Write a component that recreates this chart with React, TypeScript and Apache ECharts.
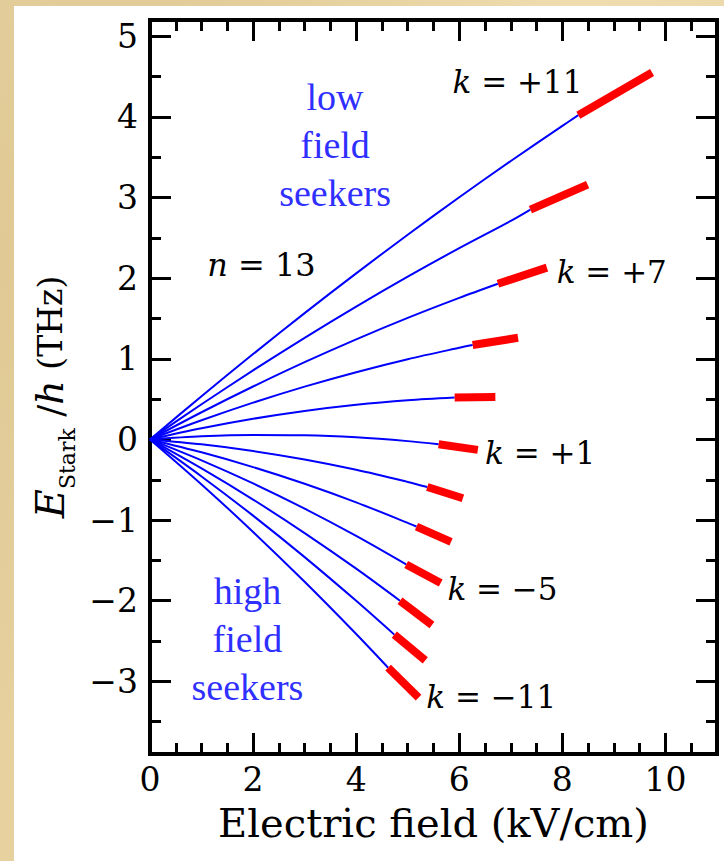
import React, { useEffect, useRef } from 'react';
import * as echarts from 'echarts';

// Parabolic Stark levels, n = 13
const kLevels = [11, 9, 7, 5, 3, 1, -1, -3, -5, -7, -9, -11];

// blue (bound) part: field samples (kV/cm) and energies (THz)
const blueField: number[][] = [
  [0, 1, 2, 3, 4, 5, 6, 7, 8],
  [0, 1, 2, 3, 4, 5, 6, 7],
  [0, 1, 2, 3, 4, 5, 6],
  [0, 1, 2, 3, 4, 5, 6],
  [0, 1, 2, 3, 4, 5],
  [0, 1, 2, 3, 4, 5],
  [0, 1, 2, 3, 4, 5],
  [0, 1, 2, 3, 4, 5],
  [0, 1, 2, 3, 4],
  [0, 1, 2, 3, 4],
  [0, 1, 2, 3, 4],
  [0, 1, 2, 3, 4],
];
const blueEnergy: number[][] = [
  [0, 0.536, 1.058, 1.566, 2.059, 2.538, 3.002, 3.452, 3.887],
  [0, 0.436, 0.856, 1.26, 1.647, 2.018, 2.372, 2.71],
  [0, 0.337, 0.656, 0.958, 1.241, 1.507, 1.755],
  [0, 0.237, 0.456, 0.655, 0.834, 0.995, 1.136],
  [0, 0.138, 0.256, 0.353, 0.43, 0.486],
  [0, 0.039, 0.056, 0.052, 0.026, -0.021],
  [0, -0.061, -0.144, -0.249, -0.377, -0.527],
  [0, -0.16, -0.343, -0.55, -0.78, -1.034],
  [0, -0.26, -0.546, -0.859, -1.197],
  [0, -0.36, -0.746, -1.161, -1.602],
  [0, -0.459, -0.945, -1.459, -2.001],
  [0, -0.558, -1.147, -1.765, -2.412],
];

// red (ionising) part: start and end of each thick segment
const redStartField = [8.31, 7.38, 6.75, 6.26, 5.91, 5.6, 5.38, 5.17, 4.97, 4.85, 4.74, 4.62];
const redStartEnergy = [4.02, 2.85, 1.93, 1.17, 0.52, -0.06, -0.59, -1.08, -1.55, -2.0, -2.42, -2.83];
const redEndField = [9.74, 8.49, 7.7, 7.14, 6.7, 6.36, 6.07, 5.84, 5.64, 5.47, 5.34, 5.21];
const redEndEnergy = [4.55, 3.16, 2.13, 1.26, 0.525, -0.13, -0.73, -1.27, -1.78, -2.3, -2.74, -3.2];

// annotations
const kLabelTexts = ['+11', '+7', '+1', '\u22125', '\u221211'];
const kLabelField = [5.86, 7.88, 6.49, 5.76, 5.35];
const kLabelEnergy = [4.43, 2.07, -0.17, -1.85, -3.19];
const seekerTexts = ['low\nfield\nseekers', 'high\nfield\nseekers'];
const seekerField = [3.59, 1.89];
const seekerEnergy = [3.65, -2.48];
const nLabelText = '13';
const nLabelField = [1.1];
const nLabelEnergy = [2.16];

const FONT = "'DejaVu Serif', serif";
const BLUE_FONT = "'Liberation Serif', 'Times New Roman', serif";

const fmtNum = (v: number) => {
  if (Math.abs(v - Math.round(v)) > 1e-6) return '';
  const r = Math.round(v);
  return r < 0 ? '\u2212' + Math.abs(r) : String(r);
};

function buildOption(): any {
  const tickStyle = { color: '#000', width: 3 };
  const majorLen = 21;
  const minorLen = 11;
  const noLine = { show: false, onZero: false };
  const xBase = { type: 'value', min: 0, max: 11, gridIndex: 0, splitLine: { show: false }, axisLine: noLine };
  const yBase = { type: 'value', min: -3.9, max: 5.2, gridIndex: 0, splitLine: { show: false }, axisLine: noLine };

  const xAxis = [
    {
      ...xBase,
      position: 'bottom',
      minInterval: 2,
      maxInterval: 2,
      axisTick: { show: true, inside: true, length: majorLen, lineStyle: tickStyle },
      axisLabel: {
        show: true, margin: 9, color: '#000', fontFamily: FONT, fontSize: 33,
        showMaxLabel: false, formatter: (v: number) => fmtNum(v),
      },
      name: 'Electric field (kV/cm)',
      nameLocation: 'middle',
      nameGap: 49,
      nameTextStyle: { fontFamily: FONT, fontSize: 40, color: '#000' },
    },
    {
      ...xBase, position: 'bottom', interval: 0.5,
      axisTick: { show: true, inside: true, length: minorLen, lineStyle: tickStyle },
      axisLabel: { show: false },
    },
    {
      ...xBase, position: 'top', minInterval: 2, maxInterval: 2,
      axisTick: { show: true, inside: true, length: majorLen, lineStyle: tickStyle },
      axisLabel: { show: false },
    },
    {
      ...xBase, position: 'top', interval: 0.5,
      axisTick: { show: true, inside: true, length: minorLen, lineStyle: tickStyle },
      axisLabel: { show: false },
    },
  ];

  const yAxis = [
    {
      ...yBase,
      position: 'left',
      minInterval: 1,
      maxInterval: 1,
      axisTick: { show: true, inside: true, length: majorLen, lineStyle: tickStyle },
      axisLabel: {
        show: true, margin: 12, color: '#000', fontFamily: FONT, fontSize: 33,
        showMinLabel: false, showMaxLabel: false, formatter: (v: number) => fmtNum(v),
      },
      name: '{e|E}{s|Stark}{sl| /}{h|h}{t| (THz)}',
      nameLocation: 'middle',
      nameRotate: 90,
      nameGap: 67,
      nameTextStyle: {
        padding: [0, 20, 0, 0],
        rich: {
          e: { fontFamily: FONT, fontStyle: 'italic', fontSize: 40, color: '#000', lineHeight: 40, verticalAlign: 'middle' },
          s: { fontFamily: FONT, fontSize: 22, color: '#000', lineHeight: 22, verticalAlign: 'bottom' },
          sl: { fontFamily: FONT, fontSize: 36, color: '#000', lineHeight: 40, verticalAlign: 'middle' },
          h: { fontFamily: FONT, fontStyle: 'italic', fontSize: 38, color: '#000', lineHeight: 40, verticalAlign: 'middle' },
          t: { fontFamily: FONT, fontSize: 33, color: '#000', lineHeight: 56, verticalAlign: 'middle' },
        },
      },
    },
    {
      ...yBase, position: 'left', minInterval: 0.5, maxInterval: 0.5,
      axisTick: { show: true, inside: true, length: minorLen, lineStyle: tickStyle },
      axisLabel: { show: false },
    },
    {
      ...yBase, position: 'right', minInterval: 1, maxInterval: 1,
      axisTick: { show: true, inside: true, length: majorLen, lineStyle: tickStyle },
      axisLabel: { show: false },
    },
    {
      ...yBase, position: 'right', minInterval: 0.5, maxInterval: 0.5,
      axisTick: { show: true, inside: true, length: minorLen, lineStyle: tickStyle },
      axisLabel: { show: false },
    },
  ];

  const blueSeries = kLevels.map((k, i) => ({
    type: 'line',
    name: 'k = ' + k,
    xAxisIndex: 0,
    yAxisIndex: 0,
    data: blueField[i]
      .map((x, j) => [x, blueEnergy[i][j]])
      .concat([[redStartField[i], redStartEnergy[i]]]),
    smooth: 0.3,
    symbol: 'none',
    silent: true,
    lineStyle: { color: '#0000ff', width: 2 },
    z: 3,
  }));

  const redSeries = kLevels.map((k, i) => ({
    type: 'line',
    name: 'ionisation k = ' + k,
    xAxisIndex: 0,
    yAxisIndex: 0,
    data: [
      [redStartField[i], redStartEnergy[i]],
      [redEndField[i], redEndEnergy[i]],
    ],
    symbol: 'none',
    silent: true,
    lineStyle: { color: '#ff0000', width: 8, cap: 'butt' },
    z: 4,
  }));

  const hidden = { color: 'rgba(0,0,0,0)', opacity: 1 };

  const kLabelSeries = {
    type: 'scatter',
    xAxisIndex: 0,
    yAxisIndex: 0,
    symbolSize: 1,
    silent: true,
    itemStyle: hidden,
    data: kLabelField.map((x, i) => [x, kLabelEnergy[i]]),
    label: {
      show: true,
      position: 'right',
      distance: 0,
      opacity: 1,
      formatter: (p: any) => '{i|k}{n| = ' + kLabelTexts[p.dataIndex] + '}',
      rich: {
        i: { fontFamily: FONT, fontStyle: 'italic', fontSize: 31, color: '#000' },
        n: { fontFamily: FONT, fontSize: 31, color: '#000' },
      },
    },
    z: 5,
  };

  const nLabelSeries = {
    type: 'scatter',
    xAxisIndex: 0,
    yAxisIndex: 0,
    symbolSize: 1,
    silent: true,
    itemStyle: hidden,
    data: nLabelField.map((x, i) => [x, nLabelEnergy[i]]),
    label: {
      show: true,
      position: 'right',
      distance: 0,
      opacity: 1,
      formatter: () => '{i|n}{n| = ' + nLabelText + '}',
      rich: {
        i: { fontFamily: FONT, fontStyle: 'italic', fontSize: 32, color: '#000' },
        n: { fontFamily: FONT, fontSize: 32, color: '#000' },
      },
    },
    z: 5,
  };

  const seekerSeries = {
    type: 'scatter',
    xAxisIndex: 0,
    yAxisIndex: 0,
    symbolSize: 1,
    silent: true,
    itemStyle: hidden,
    data: seekerField.map((x, i) => [x, seekerEnergy[i]]),
    label: {
      show: true,
      position: 'inside',
      opacity: 1,
      formatter: (p: any) => seekerTexts[p.dataIndex],
      fontFamily: BLUE_FONT,
      fontSize: 38,
      lineHeight: 48,
      align: 'center',
      color: '#2f2fff',
      textBorderWidth: 0,
    },
    z: 5,
  };

  return {
    animation: false,
    backgroundColor: 'transparent',
    grid: {
      left: 150,
      right: 7,
      top: 20,
      bottom: 107,
      show: true,
      borderColor: '#000',
      borderWidth: 4,
      backgroundColor: 'transparent',
    },
    xAxis,
    yAxis,
    series: [...blueSeries, ...redSeries, kLabelSeries, nLabelSeries, seekerSeries],
  };
}

export default function App() {
  const ref = useRef<HTMLDivElement>(null);
  useEffect(() => {
    if (!ref.current) return;
    const chart = echarts.init(ref.current, undefined, { renderer: 'svg' });
    chart.setOption(buildOption());
    return () => chart.dispose();
  }, []);
  return (
    <div
      style={{
        position: 'absolute',
        left: 0,
        top: 0,
        width: 724,
        height: 861,
        overflow: 'hidden',
        background:
          'radial-gradient(ellipse at 20% 30%, rgba(215,190,135,0.55), rgba(0,0,0,0) 60%), radial-gradient(ellipse at 80% 10%, rgba(245,228,185,0.7), rgba(0,0,0,0) 50%), #e6d19f',
      }}
    >
      <div style={{ position: 'absolute', left: 14, top: 6, right: 0, bottom: 0, background: '#ffffff' }} />
      <div ref={ref} style={{ position: 'absolute', left: 0, top: 0, width: 724, height: 861 }} />
    </div>
  );
}
